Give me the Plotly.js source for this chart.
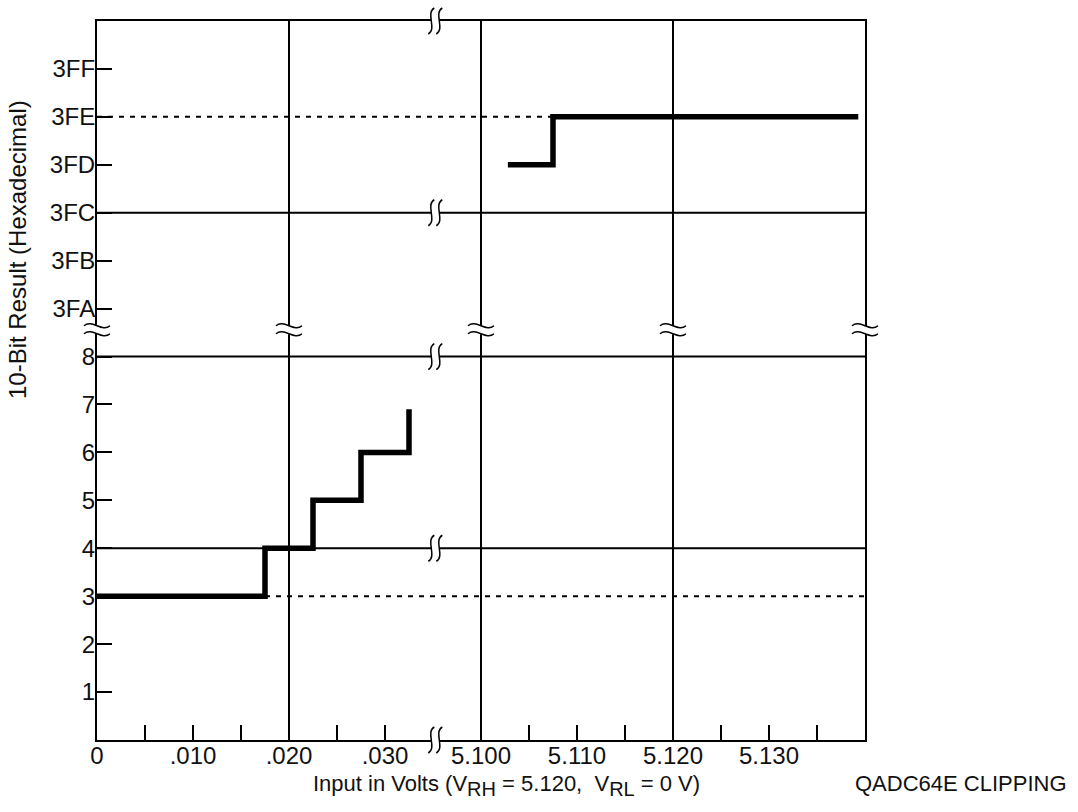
<!DOCTYPE html>
<html>
<head>
<meta charset="utf-8">
<script src="https://cdn.plot.ly/plotly-3.0.1.min.js"></script>
<style>html,body{margin:0;padding:0;background:#fff;}#chart{width:1078px;height:812px;}</style>
</head>
<body>
<div id="chart"></div>
<script>
// ---- data ----
const xTickLabels = ['0', '.010', '.020', '.030', '5.100', '5.110', '5.120', '5.130'];
const yTickLabels = ['1', '2', '3', '4', '5', '6', '7', '8', '3FA', '3FB', '3FC', '3FD', '3FE', '3FF'];
const yTickCodes = [1, 2, 3, 4, 5, 6, 7, 8, 0x3FA, 0x3FB, 0x3FC, 0x3FD, 0x3FE, 0x3FF];

// low-end transfer steps (volts, result code)
const lowVolts = [0, 0.0175, 0.0175, 0.0225, 0.0225, 0.0275, 0.0275, 0.0325, 0.0325];
const lowCodes = [3, 3, 4, 4, 5, 5, 6, 6, 6.9];
// high-end (clipping) steps
const highVolts = [5.1028, 5.1075, 5.1075, 5.1393];
const highCodes = [0x3FD, 0x3FD, 0x3FE, 0x3FE];
// dashed ideal lines
const dashLowVolts = [0.0175, 5.14];
const dashLowCodes = [3, 3];
const dashHighVolts = [0, 5.1075];
const dashHighCodes = [0x3FE, 0x3FE];

// grid lines
const gridVolts = [0.020, 5.100, 5.120];
const gridCodes = [4, 8, 0x3FC];
// axis breaks
const xBreakPos = 3.5;          // between .030 and 5.100
const yBreakPos = 8.5;          // between 8 and 3FA

// ---- broken-axis scale helpers ----
const X_RANGE = [0, 8], Y_RANGE = [0, 15];
function vx(v) { return v < 1 ? v / 0.01 : 4 + (v - 5.1) / 0.01; }
function cy(c) { return c <= 8.5 ? c : c - 0x3FA + 9; }
function xpaper(xv) { return (xv - X_RANGE[0]) / (X_RANGE[1] - X_RANGE[0]); }
function ypaper(yv) { return (yv - Y_RANGE[0]) / (Y_RANGE[1] - Y_RANGE[0]); }

const font = '"Liberation Sans", Arial, Helvetica, sans-serif';
const black = '#000';
const txt = '#111';

const xTickVals = [], xTickText = [];
for (let i = 0; i < xTickLabels.length; i++) {
  xTickVals.push(i); xTickText.push(xTickLabels[i]);
  if (i + 0.5 !== xBreakPos) { xTickVals.push(i + 0.5); xTickText.push(''); }
}

const traces = [
  {x: dashLowVolts.map(vx), y: dashLowCodes.map(cy), mode: 'lines', line: {color: black, width: 2, dash: '5px,6px'}, hoverinfo: 'skip'},
  {x: dashHighVolts.map(vx), y: dashHighCodes.map(cy), mode: 'lines', line: {color: black, width: 2, dash: '5px,6px'}, hoverinfo: 'skip'},
  {x: lowVolts.map(vx), y: lowCodes.map(cy), mode: 'lines', line: {color: black, width: 5.5}},
  {x: highVolts.map(vx), y: highCodes.map(cy), mode: 'lines', line: {color: black, width: 5.5}}
];

const shapes = [];
gridVolts.forEach(v => shapes.push({type: 'line', xref: 'x', yref: 'paper', x0: vx(v), x1: vx(v), y0: 0, y1: 1, line: {color: black, width: 2}, layer: 'below'}));
gridCodes.forEach(c => shapes.push({type: 'line', xref: 'paper', yref: 'y', x0: 0, x1: 1, y0: cy(c), y1: cy(c), line: {color: black, width: 2}, layer: 'below'}));

// break marks on vertical lines (wavy "≈")
const vBreakX = [0, 2, 4, 6, 8];
vBreakX.forEach(xv => {
  const base = {type: 'path', xref: 'paper', yref: 'paper', xsizemode: 'pixel', ysizemode: 'pixel', xanchor: xpaper(xv), yanchor: ypaper(yBreakPos) + 0.004, layer: 'above'};
  shapes.push(Object.assign({}, base, {path: 'M-13,-4 C-5,3 5,-11 13,-4 L13,4 C5,-3 -5,11 -13,4 Z', fillcolor: '#fff', line: {width: 0}}));
  shapes.push(Object.assign({}, base, {path: 'M-13,4 C-5,11 5,-3 13,4', line: {color: black, width: 1.5}}));
  shapes.push(Object.assign({}, base, {path: 'M-13,-4 C-5,3 5,-11 13,-4', line: {color: black, width: 1.5}}));
});
// break marks on horizontal lines ("ʃʃ")
const hBreakY = [0, 4, 8, 11, 15];
hBreakY.forEach(yv => {
  const base = {type: 'path', xref: 'paper', yref: 'paper', xsizemode: 'pixel', ysizemode: 'pixel', xanchor: xpaper(xBreakPos) + 0.003, yanchor: ypaper(yv), layer: 'above'};
  shapes.push(Object.assign({}, base, {path: 'M-1,13 C-10,8 2,-8 -7,-13 L1,-13 C10,-8 -2,8 7,13 Z', fillcolor: '#fff', line: {width: 0}}));
  shapes.push(Object.assign({}, base, {path: 'M-1,13 C-10,8 2,-8 -7,-13', line: {color: black, width: 1.5}}));
  shapes.push(Object.assign({}, base, {path: 'M7,13 C-2,8 10,-8 1,-13', line: {color: black, width: 1.5}}));
});

const axisCommon = {
  showline: true, linewidth: 2, linecolor: black, mirror: true,
  ticks: 'inside', ticklen: 15, tickwidth: 2, tickcolor: black,
  showgrid: false, zeroline: false, fixedrange: true,
  tickfont: {family: font, size: 24, color: txt}
};

const sub = s => '<sub><span style="font-size:20px">' + s + '</span></sub>';

const layout = {
  width: 1078, height: 812,
  margin: {l: 97, r: 213, t: 21, b: 72},
  paper_bgcolor: '#fff', plot_bgcolor: '#fff',
  showlegend: false,
  font: {family: font, color: txt},
  xaxis: Object.assign({}, axisCommon, {
    range: X_RANGE, tickmode: 'array', tickvals: xTickVals, ticktext: xTickText,
    ticklabelstandoff: -7
  }),
  yaxis: Object.assign({}, axisCommon, {
    range: Y_RANGE, tickmode: 'array', tickvals: yTickCodes.map(cy), ticktext: yTickLabels,
    ticklabelstandoff: -5
  }),
  shapes: shapes,
  annotations: [
    {
      text: 'Input in Volts (V' + sub('RH') + ' = 5.120,  V' + sub('RL') + ' = 0 V)',
      xref: 'paper', yref: 'paper', x: (506 - 97) / 768, y: (740 - 769) / 719,
      xanchor: 'center', yanchor: 'top', showarrow: false, font: {family: font, size: 22, color: txt}
    },
    {
      text: '10-Bit Result (Hexadecimal)', textangle: -90,
      xref: 'paper', yref: 'paper', x: (18 - 97) / 768, y: (740 - 250) / 719,
      xanchor: 'center', yanchor: 'middle', showarrow: false, font: {family: font, size: 24, color: txt}
    },
    {
      text: 'QADC64E CLIPPING', xref: 'paper', yref: 'paper', x: (1069 - 97) / 768, y: (740 - 769) / 719,
      xanchor: 'right', yanchor: 'top', showarrow: false, font: {family: font, size: 22, color: txt}
    }
  ]
};

Plotly.newPlot('chart', traces, layout, {displayModeBar: false, staticPlot: true});
</script>
</body>
</html>
